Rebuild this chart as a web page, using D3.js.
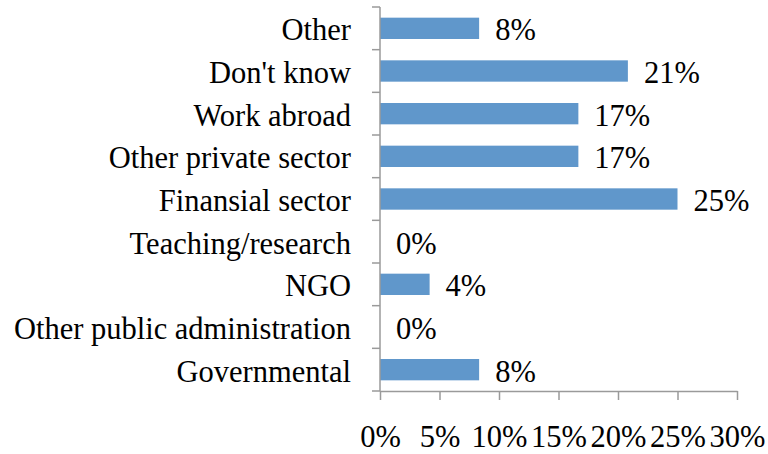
<!DOCTYPE html>
<html>
<head>
<meta charset="utf-8">
<script src="https://cdn.jsdelivr.net/npm/d3@7"></script>
<style>
  body { margin: 0; background: #fff; }
</style>
</head>
<body>
<div id="wrapper"></div>
<script>
// data, top to bottom as drawn
const categories = [
  "Other", "Don't know", "Work abroad", "Other private sector",
  "Finansial sector", "Teaching/research", "NGO",
  "Other public administration", "Governmental"
]
const shares = [8.33, 20.83, 16.67, 16.67, 25, 0, 4.17, 0, 8.33]
const shareLabels = ["8%", "21%", "17%", "17%", "25%", "0%", "4%", "0%", "8%"]
const xTicks = [0, 5, 10, 15, 20, 25, 30]

const data = categories.map((c, i) => ({ category: c, value: shares[i], label: shareLabels[i] }))
const xAccessor = d => d.value
const yAccessor = d => d.category

const dimensions = {
  width: 768,
  height: 454,
  margin: { top: 7, right: 31, bottom: 63, left: 380 }
}
dimensions.boundedWidth = dimensions.width - dimensions.margin.left - dimensions.margin.right
dimensions.boundedHeight = dimensions.height - dimensions.margin.top - dimensions.margin.bottom

const fontFamily = "Liberation Serif"
const fontSize = 30.5
const axisColor = "#9a9a9a"

const wrapper = d3.select("#wrapper")
  .append("svg")
    .attr("width", dimensions.width)
    .attr("height", dimensions.height)

const bounds = wrapper.append("g")
  .attr("transform", `translate(${dimensions.margin.left},${dimensions.margin.top})`)

// scales
const xScale = d3.scaleLinear()
  .domain([0, 30])
  .range([0, dimensions.boundedWidth])

const yScale = d3.scaleBand()
  .domain(categories)
  .range([0, dimensions.boundedHeight])
  .paddingInner(0.5)
  .paddingOuter(0.25)

// bars
bounds.append("g")
  .selectAll("rect")
  .data(data)
  .join("rect")
    .attr("x", 0)
    .attr("y", d => yScale(yAccessor(d)))
    .attr("width", d => xScale(xAccessor(d)))
    .attr("height", yScale.bandwidth())
    .attr("fill", "#6097cb")

// value labels
bounds.append("g")
  .selectAll("text")
  .data(data)
  .join("text")
    .attr("x", d => xScale(xAccessor(d)) + 16)
    .attr("y", d => yScale(yAccessor(d)) + yScale.bandwidth() / 2 + 12)
    .text(d => d.label)
    .attr("font-family", fontFamily)
    .attr("font-size", fontSize)
    .attr("fill", "#000")

// y axis: line with ticks between categories
const yAxis = bounds.append("g")
yAxis.append("line")
  .attr("x1", 0).attr("x2", 0)
  .attr("y1", 0).attr("y2", dimensions.boundedHeight)
  .attr("stroke", axisColor)
  .attr("stroke-width", 1.5)
const step = yScale.step()
yAxis.selectAll(".ytick")
  .data(d3.range(categories.length + 1))
  .join("line")
    .attr("class", "ytick")
    .attr("x1", -8).attr("x2", 0)
    .attr("y1", i => i * step).attr("y2", i => i * step)
    .attr("stroke", axisColor)
    .attr("stroke-width", 1.5)
yAxis.selectAll(".ylabel")
  .data(categories)
  .join("text")
    .attr("class", "ylabel")
    .attr("x", -29)
    .attr("y", d => yScale(d) + yScale.bandwidth() / 2 + 12)
    .attr("text-anchor", "end")
    .text(d => d)
    .attr("font-family", fontFamily)
    .attr("font-size", fontSize)
    .attr("fill", "#000")

// x axis
const xAxisGenerator = d3.axisBottom(xScale)
  .tickValues(xTicks)
  .tickFormat(d => d + "%")
  .tickSizeInner(9)
  .tickSizeOuter(0)
  .tickPadding(25)

const xAxis = bounds.append("g")
  .attr("transform", `translate(0,${dimensions.boundedHeight})`)
  .call(xAxisGenerator)
  .attr("font-family", fontFamily)
  .attr("font-size", fontSize)
xAxis.select(".domain").attr("stroke", axisColor).attr("stroke-width", 1.5)
xAxis.selectAll(".tick line").attr("stroke", axisColor).attr("stroke-width", 1.5)
xAxis.selectAll(".tick text").attr("fill", "#000")
</script>
</body>
</html>
